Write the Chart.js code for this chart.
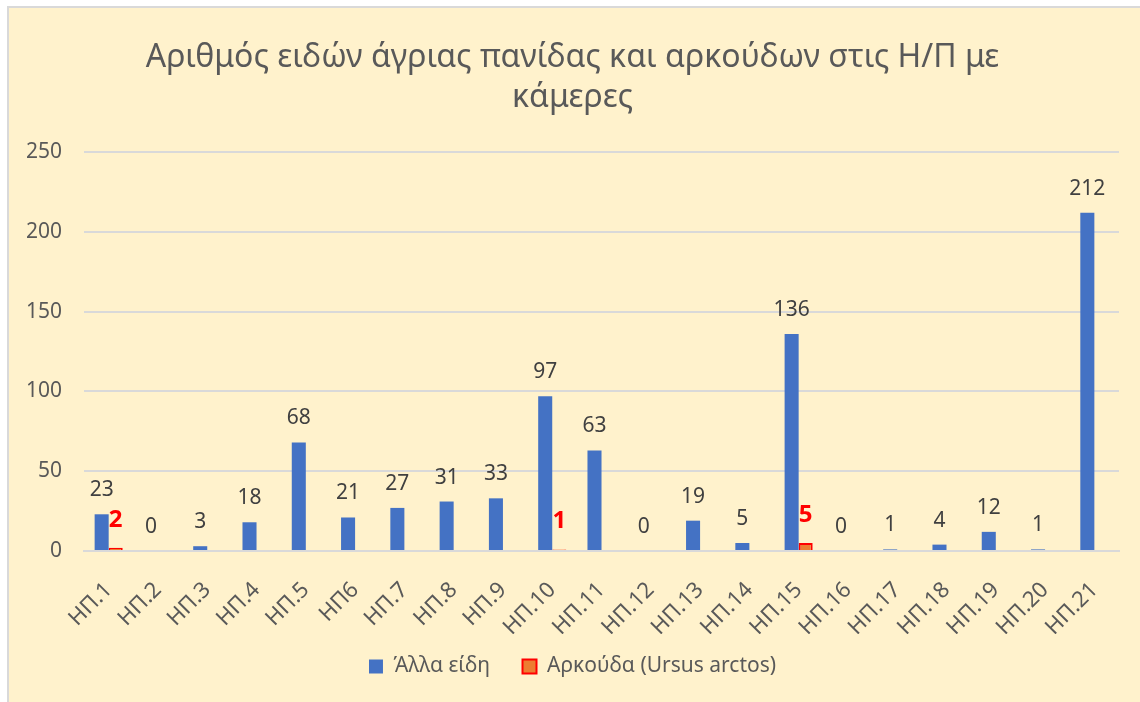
<!DOCTYPE html>
<html>
<head>
<meta charset="utf-8">
<script src="https://cdn.jsdelivr.net/npm/chart.js@4/dist/chart.umd.min.js"></script>
<style>
  body { margin: 0; background: #ffffff; }
  #wrap {
    position: absolute; left: 7px; top: 6px;
    width: 1133px; height: 696px;
    border-left: 2px solid #d9d9d9; border-top: 2px solid #d9d9d9;
    background: #FFF2CC;
  }
</style>
</head>
<body>
<div id="wrap"><canvas id="chart" width="1133" height="696"></canvas></div>
<script>
const categories = ['ΗΠ.1', 'ΗΠ.2', 'ΗΠ.3', 'ΗΠ.4', 'ΗΠ.5', 'ΗΠ6', 'ΗΠ.7', 'ΗΠ.8', 'ΗΠ.9', 'ΗΠ.10', 'ΗΠ.11',
  'ΗΠ.12', 'ΗΠ.13', 'ΗΠ.14', 'ΗΠ.15', 'ΗΠ.16', 'ΗΠ.17', 'ΗΠ.18', 'ΗΠ.19', 'ΗΠ.20', 'ΗΠ.21'];
const otherSpecies = [23, 0, 3, 18, 68, 21, 27, 31, 33, 97, 63, 0, 19, 5, 136, 0, 1, 4, 12, 1, 212];
const bears = [2, 0, 0, 0, 0, 0, 0, 0, 0, 1, 0, 0, 0, 0, 5, 0, 0, 0, 0, 0, 0];
const yTicks = [0, 50, 100, 150, 200, 250];

const FONT = "'Noto Sans', sans-serif";

// draws the value labels over the bars
const barLabels = {
  id: 'barLabels',
  afterDatasetsDraw(chart) {
    const ctx = chart.ctx;
    ctx.save();
    ctx.textAlign = 'center';
    ctx.textBaseline = 'middle';
    chart.data.datasets.forEach((ds, i) => {
      const meta = chart.getDatasetMeta(i);
      meta.data.forEach((bar, j) => {
        const v = ds.data[j];
        if (i === 0) {
          ctx.fillStyle = '#404040';
          ctx.font = "21px " + FONT;
          ctx.fillText(String(v), bar.x, bar.y - 24);
        } else if (v > 0) {
          ctx.fillStyle = '#FF0000';
          ctx.font = "bold 24px " + FONT;
          ctx.fillText(String(v), bar.x, bar.y - 28);
        }
      });
    });
    ctx.restore();
  }
};

const ctx = document.getElementById('chart').getContext('2d');
new Chart(ctx, {
  type: 'bar',
  data: {
    labels: categories,
    datasets: [{
      label: 'Άλλα είδη',
      data: otherSpecies,
      backgroundColor: '#4472C4',
      borderWidth: 0
    }, {
      label: 'Αρκούδα (Ursus arctos)',
      data: bears,
      backgroundColor: '#ED7D31',
      borderColor: '#FF0000',
      borderWidth: c => (c.raw > 0 ? 2 : 0)
    }]
  },
  options: {
    responsive: false,
    animation: false,
    categoryPercentage: 0.57,
    barPercentage: 1,
    layout: { padding: { left: 17, right: 23, top: 14, bottom: 17 } },
    plugins: {
      title: {
        display: true,
        text: ['Αριθμός ειδών άγριας πανίδας και αρκούδων στις Η/Π με', 'κάμερες'],
        color: '#595959',
        font: { family: FONT, size: 32, weight: 'normal', lineHeight: 1.25 },
        padding: { top: 16, bottom: 34 }
      },
      legend: {
        position: 'bottom',
        labels: {
          color: '#595959',
          font: { family: FONT, size: 21 },
          boxWidth: 14,
          boxHeight: 14,
          padding: 22,
          // a little more room between the two items
          generateLabels: chart => {
            const items = Chart.defaults.plugins.legend.labels.generateLabels(chart);
            items[0].text += '\u2002';
            return items;
          }
        }
      },
      tooltip: { enabled: false }
    },
    scales: {
      x: {
        grid: { display: false },
        border: { color: '#D9D9D9', width: 2 },
        // Chart.js doubles the tick padding in the axis size; keep only what the labels need
        afterFit: s => { s.height = 83; },
        ticks: {
          color: '#595959',
          font: { family: FONT, size: 22 },
          padding: 18,
          maxRotation: 45,
          minRotation: 45
        }
      },
      y: {
        min: 0,
        max: 250,
        afterBuildTicks: axis => { axis.ticks = yTicks.map(v => ({ value: v })); },
        afterFit: s => { s.width -= 22; },
        grid: { color: '#D9D9D9', lineWidth: 2, drawTicks: false },
        border: { display: false },
        ticks: {
          color: '#595959',
          font: { family: FONT, size: 21 },
          padding: 22
        }
      }
    }
  },
  plugins: [barLabels]
});
</script>
</body>
</html>
